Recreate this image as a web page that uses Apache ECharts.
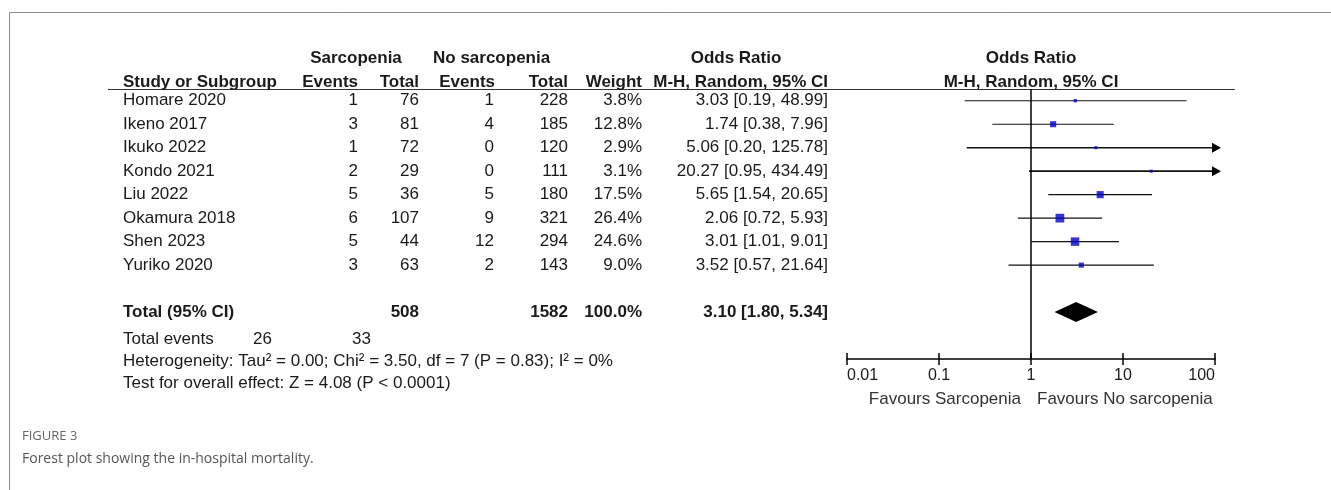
<!DOCTYPE html>
<html>
<head>
<meta charset="utf-8">
<script src="https://cdn.jsdelivr.net/npm/echarts@6/dist/echarts.min.js"></script>
<style>
  html, body { margin: 0; padding: 0; background: #fff; }
  #main { width: 1331px; height: 490px; }
</style>
</head>
<body>
<div id="main"></div>
<script>
// study level data
var studies = ['Homare 2020', 'Ikeno 2017', 'Ikuko 2022', 'Kondo 2021', 'Liu 2022', 'Okamura 2018', 'Shen 2023', 'Yuriko 2020'];
var sarcEvents = [1, 3, 1, 2, 5, 6, 5, 3];
var sarcTotal = [76, 81, 72, 29, 36, 107, 44, 63];
var noEvents = [1, 4, 0, 0, 5, 9, 12, 2];
var noTotal = [228, 185, 120, 111, 180, 321, 294, 143];
var weights = [3.8, 12.8, 2.9, 3.1, 17.5, 26.4, 24.6, 9.0];
var oddsRatio = [3.03, 1.74, 5.06, 20.27, 5.65, 2.06, 3.01, 3.52];
var ciLow = [0.19, 0.38, 0.20, 0.95, 1.54, 0.72, 1.01, 0.57];
var ciHigh = [48.99, 7.96, 125.78, 434.49, 20.65, 5.93, 9.01, 21.64];

// pooled result
var pooledOR = [3.10, 1.80, 5.34];   // estimate, low, high
var pooledTotals = [508, 1582];
var totalEvents = [26, 33];
var heterogeneity = 'Heterogeneity: Tau² = 0.00; Chi² = 3.50, df = 7 (P = 0.83); I² = 0%';
var overallEffect = 'Test for overall effect: Z = 4.08 (P < 0.0001)';

var tickLabels = ['0.01', '0.1', '1', '10', '100'];
var axisMin = 0.01, axisMax = 100;

var FONT = '"Liberation Sans", Arial, sans-serif';
var pooledRow = 9;

function fmt(v) { return v.toFixed(2); }
function ciText(o, l, h) { return fmt(o) + ' [' + fmt(l) + ', ' + fmt(h) + ']'; }

// table cells, x = pixel column edge, row = forest row index
var cells = [];
function cell(x, row, text, align, bold, color) {
  cells.push({ x: x, row: row, text: text, align: align || 'right', bold: !!bold, color: color || '#1a1a1a' });
}
var hdr1 = -1.82, hdr2 = -0.8;
cell(356, hdr1, 'Sarcopenia', 'center', true);
cell(433, hdr1, 'No sarcopenia', 'left', true);
cell(736, hdr1, 'Odds Ratio', 'center', true);
cell(1031, hdr1, 'Odds Ratio', 'center', true);
cell(123, hdr2, 'Study or Subgroup', 'left', true);
cell(358, hdr2, 'Events', 'right', true);
cell(419, hdr2, 'Total', 'right', true);
cell(495, hdr2, 'Events', 'right', true);
cell(568, hdr2, 'Total', 'right', true);
cell(642, hdr2, 'Weight', 'right', true);
cell(828, hdr2, 'M-H, Random, 95% CI', 'right', true);
cell(1031, hdr2, 'M-H, Random, 95% CI', 'center', true);

studies.forEach(function (s, i) {
  cell(123, i, s, 'left');
  cell(358, i, String(sarcEvents[i]));
  cell(419, i, String(sarcTotal[i]));
  cell(494, i, String(noEvents[i]));
  cell(568, i, String(noTotal[i]));
  cell(642, i, weights[i].toFixed(1) + '%');
  cell(828, i, ciText(oddsRatio[i], ciLow[i], ciHigh[i]));
});
cell(123, pooledRow, 'Total (95% CI)', 'left', true);
cell(419, pooledRow, String(pooledTotals[0]), 'right', true);
cell(568, pooledRow, String(pooledTotals[1]), 'right', true);
cell(642, pooledRow, '100.0%', 'right', true);
cell(828, pooledRow, ciText(pooledOR[0], pooledOR[1], pooledOR[2]), 'right', true);
cell(123, 10.15, 'Total events', 'left');
cell(272, 10.15, String(totalEvents[0]));
cell(371, 10.15, String(totalEvents[1]));
cell(123, 11.1, heterogeneity, 'left');
cell(123, 12.03, overallEffect, 'left');
cell(1021, 12.72, 'Favours Sarcopenia', 'right', false, '#333');
cell(1037, 12.72, 'Favours No sarcopenia', 'left', false, '#333');

var ciData = studies.map(function (s, i) { return [ciLow[i], ciHigh[i], i]; });
var pointData = studies.map(function (s, i) { return [oddsRatio[i], i, weights[i]]; });

var chart = echarts.init(document.getElementById('main'));

var option = {
  animation: false,
  backgroundColor: '#fff',
  grid: [
    { left: 0, right: 0, top: 89, bottom: 131 },
    { left: 847, right: 116, top: 89, bottom: 131 }
  ],
  xAxis: [
    { gridIndex: 0, type: 'value', min: 0, max: 1331, show: false },
    {
      gridIndex: 1, type: 'log', logBase: 10, min: axisMin, max: axisMax, position: 'bottom',
      axisLine: { onZero: false, lineStyle: { color: '#000', width: 1.5 } },
      axisTick: { length: 6, lineStyle: { color: '#000', width: 1.5 } },
      axisLabel: {
        color: '#1a1a1a', fontFamily: FONT, fontSize: 16, margin: 9,
        alignMinLabel: 'left', alignMaxLabel: 'right',
        formatter: function (v) {
          var k = Math.round(Math.log10(v)) + 2;
          return tickLabels[k] || '';
        }
      },
      splitLine: { show: false }
    },
    {
      gridIndex: 1, type: 'log', logBase: 10, min: axisMin, max: axisMax, position: 'bottom',
      axisLine: { show: false, onZero: false },
      axisTick: { inside: true, length: 6, lineStyle: { color: '#000', width: 1.5 } },
      axisLabel: { show: false },
      splitLine: { show: false }
    }
  ],
  yAxis: [
    { gridIndex: 0, type: 'value', min: -0.5, max: 11, inverse: true, show: false },
    { gridIndex: 1, type: 'value', min: -0.5, max: 11, inverse: true, show: false }
  ],
  graphic: [
    // figure frame
    { type: 'line', shape: { x1: 9.5, y1: 12.5, x2: 1331, y2: 12.5 }, style: { stroke: '#8c8c8c', lineWidth: 1 } },
    { type: 'line', shape: { x1: 9.5, y1: 12.5, x2: 9.5, y2: 490 }, style: { stroke: '#8c8c8c', lineWidth: 1 } },
    // header underline
    { type: 'line', shape: { x1: 108, y1: 89.5, x2: 1235, y2: 89.5 }, style: { stroke: '#333', lineWidth: 1.2 } },
    { type: 'text', left: 22, top: 430, style: { text: 'FIGURE 3', fill: '#666', font: '13px "Open Sans", sans-serif' } },
    { type: 'text', left: 22, top: 452, style: { text: 'Forest plot showing the in-hospital mortality.', fill: '#555', font: '14px "Open Sans", sans-serif' } }
  ],
  series: [
    {
      type: 'custom',
      name: 'table',
      xAxisIndex: 0, yAxisIndex: 0,
      clip: false,
      data: cells.map(function (c) { return [c.x, c.row]; }),
      renderItem: function (params, api) {
        var c = cells[params.dataIndex];
        var p = api.coord([c.x, c.row]);
        return {
          type: 'text',
          x: p[0], y: p[1],
          style: {
            text: c.text,
            fill: c.color,
            font: (c.bold ? 'bold ' : '') + '17px ' + FONT,
            align: c.align,
            verticalAlign: 'middle'
          }
        };
      }
    },
    {
      type: 'custom',
      name: 'ci',
      xAxisIndex: 1, yAxisIndex: 1,
      clip: false,
      data: ciData,
      renderItem: function (params, api) {
        var lo = api.value(0), hi = api.value(1), row = api.value(2);
        var clippedHigh = Math.min(hi, axisMax);
        var p1 = api.coord([Math.max(lo, axisMin), row]);
        var p2 = api.coord([clippedHigh, row]);
        var children = [];
        var arrow = hi > axisMax;
        children.push({
          type: 'line',
          shape: { x1: p1[0], y1: p1[1], x2: arrow ? p2[0] + 2 : p2[0], y2: p2[1] },
          style: { stroke: '#111', lineWidth: arrow ? 1.6 : 1.1 }
        });
        if (arrow) {
          children.push({
            type: 'polygon',
            shape: { points: [[p2[0] - 3, p2[1] - 5], [p2[0] + 6, p2[1]], [p2[0] - 3, p2[1] + 5]] },
            style: { fill: '#000' }
          });
        }
        return { type: 'group', children: children };
      },
      z: 2
    },
    {
      type: 'scatter',
      name: 'estimate',
      xAxisIndex: 1, yAxisIndex: 1,
      data: pointData,
      symbol: 'rect',
      symbolSize: function (v) { return Math.max(3, 1.7 * Math.sqrt(v[2])); },
      itemStyle: { color: '#0000cc' },
      z: 3,
      markLine: {
        silent: true,
        symbol: 'none',
        label: { show: false },
        lineStyle: { color: '#000', width: 1.5, type: 'solid' },
        data: [{ xAxis: 1 }]
      }
    },
    {
      type: 'custom',
      name: 'pooled',
      xAxisIndex: 1, yAxisIndex: 1,
      data: [[pooledOR[0], pooledOR[1], pooledOR[2], pooledRow]],
      renderItem: function (params, api) {
        var row = api.value(3);
        var c = api.coord([api.value(0), row]);
        var l = api.coord([api.value(1), row]);
        var r = api.coord([api.value(2), row]);
        var h = 10;
        return {
          type: 'polygon',
          shape: { points: [[l[0], c[1]], [c[0], c[1] - h], [r[0], c[1]], [c[0], c[1] + h]] },
          style: { fill: '#000' }
        };
      },
      z: 3
    }
  ]
};

chart.setOption(option);
</script>
</body>
</html>
